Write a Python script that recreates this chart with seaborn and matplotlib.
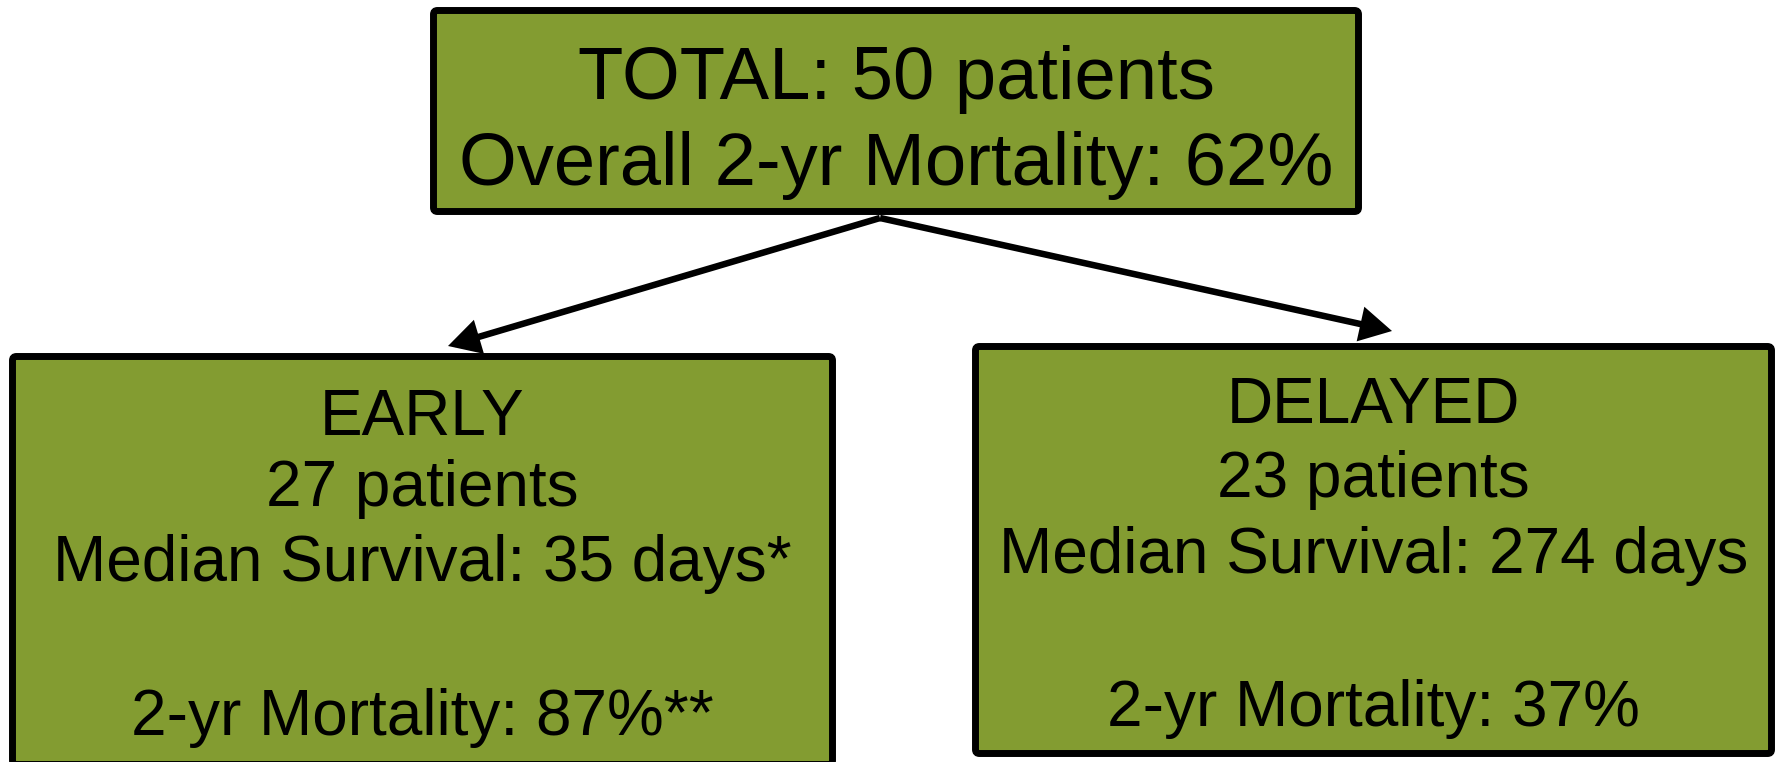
import matplotlib
matplotlib.use("Agg")
import matplotlib.pyplot as plt
from matplotlib.patches import FancyBboxPatch, FancyArrowPatch
import seaborn as sns

# Study cohort summary
total_patients = 50
overall_mortality_pct = 62
groups = ["EARLY", "DELAYED"]
group_patients = [27, 23]
median_survival_days = [35, 274]
survival_marks = ["*", ""]
mortality_2yr_pct = [87, 37]
mortality_marks = ["**", ""]

sns.set_theme(style="white")
plt.rcParams["font.family"] = ["Liberation Sans", "DejaVu Sans"]

W, H = 1779, 762
fig = plt.figure(figsize=(W / 100, H / 100), dpi=100)
ax = fig.add_axes([0, 0, 1, 1])
ax.set_xlim(0, W)
ax.set_ylim(H, 0)
ax.axis("off")

fill = "#839C31"
edge_lw = 5.0  # ~7 px border


def box(x0, y0, x1, y1):
    # outer extents given; path sits at the centre of the border stroke
    inset = 3.5
    p = FancyBboxPatch((x0 + inset, y0 + inset), (x1 - x0) - 2 * inset, (y1 - y0) - 2 * inset,
                       boxstyle="round,pad=0,rounding_size=4",
                       facecolor=fill, edgecolor="black", linewidth=edge_lw, zorder=2)
    ax.add_patch(p)


# Boxes: total, early, delayed
top_box = (430, 7, 1362, 215)
child_boxes = [(9, 353, 836, 768), (972, 343, 1775, 757)]

box(*top_box)
for b in child_boxes:
    box(*b)

# Arrows from the total box to each group
origin = (880, 218)
tips = [(448, 346), (1392, 331)]
for tip in tips:
    arr = FancyArrowPatch(origin, tip, arrowstyle="-|>,head_length=1.0,head_width=0.55",
                          mutation_scale=16, linewidth=4.7, color="black",
                          shrinkA=0, shrinkB=0, zorder=3, capstyle="butt", joinstyle="miter")
    ax.add_patch(arr)

# Text of the total box
cx_top = (top_box[0] + top_box[2]) / 2
ax.text(cx_top, 99, f"TOTAL: {total_patients} patients", ha="center", va="baseline",
        fontsize=53.5, color="black", zorder=4)
ax.text(cx_top, 185, f"Overall 2-yr Mortality: {overall_mortality_pct}%", ha="center",
        va="baseline", fontsize=53.5, color="black", zorder=4)

# Text of the group boxes
baselines = [[435, 506, 581, 735], [423, 497, 573, 726]]
for i, b in enumerate(child_boxes):
    cx = (b[0] + b[2]) / 2
    lines = [
        groups[i],
        f"{group_patients[i]} patients",
        f"Median Survival: {median_survival_days[i]} days{survival_marks[i]}",
        f"2-yr Mortality: {mortality_2yr_pct[i]}%{mortality_marks[i]}",
    ]
    for txt, yb in zip(lines, baselines[i]):
        ax.text(cx, yb, txt, ha="center", va="baseline", fontsize=46, color="black", zorder=4)

fig.savefig("out.png", dpi=100, facecolor="white")
